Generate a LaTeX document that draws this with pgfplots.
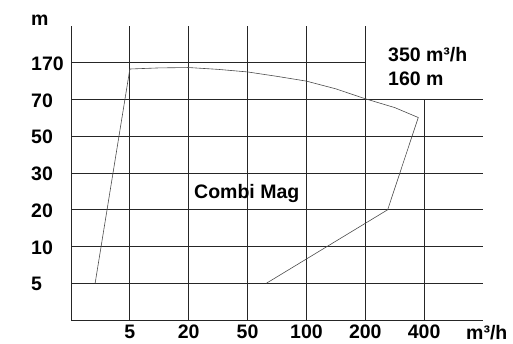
\documentclass[border=0pt]{standalone}
\usepackage{fontspec}
\setmainfont{Liberation Sans}
\usepackage{pgfplots}
\pgfplotsset{compat=1.18}
\begin{document}
\begin{tikzpicture}[x=1bp,y=1bp,font=\fontsize{19.5bp}{23bp}\selectfont\bfseries]
\path[use as bounding box] (0,0) rectangle (513,343);
\begin{axis}[
    at={(71bp,23bp)}, anchor=south west,
    width=412bp, height=294bp, scale only axis,
    xmin=0, xmax=7, ymin=0, ymax=8,
    axis x line=bottom, axis y line=left,
    axis line style={-, black!85, line width=0.8bp},
    xtick={1,...,6}, xticklabels={5,20,50,100,200,400},
    ytick={1,...,7}, yticklabels={5,10,20,30,50,70,170},
    major tick length=0pt,
    /pgf/number format/assume math mode=true,
    ticklabel style={font=\fontsize{19.5bp}{23bp}\selectfont\bfseries, inner sep=0pt},
    xticklabel style={anchor=north, yshift=-5bp},
    yticklabel style={anchor=west, xshift=-40bp, yshift=-1bp},
    clip=false,
]
% grid
\draw[black!85, line width=0.8bp] (axis cs:1,0) -- (axis cs:1,8);
\draw[black!85, line width=0.8bp] (axis cs:2,0) -- (axis cs:2,8);
\draw[black!85, line width=0.8bp] (axis cs:3,0) -- (axis cs:3,8);
\draw[black!85, line width=0.8bp] (axis cs:4,0) -- (axis cs:4,8);
\draw[black!85, line width=0.8bp] (axis cs:5,0) -- (axis cs:5,8);
\draw[black!85, line width=0.8bp] (axis cs:6,0) -- (axis cs:6,6);
\draw[black!85, line width=0.8bp] (axis cs:0,7) -- (axis cs:5,7);
\draw[black!85, line width=0.8bp] (axis cs:0,6) -- (axis cs:7,6);
\draw[black!85, line width=0.8bp] (axis cs:0,5) -- (axis cs:7,5);
\draw[black!85, line width=0.8bp] (axis cs:0,4) -- (axis cs:7,4);
\draw[black!85, line width=0.8bp] (axis cs:0,3) -- (axis cs:7,3);
\draw[black!85, line width=0.8bp] (axis cs:0,2) -- (axis cs:7,2);
\draw[black!85, line width=0.8bp] (axis cs:0,1) -- (axis cs:7,1);
% operating envelope
\addplot[black!70, line width=0.6bp] coordinates {
    (0.41,1) (1,6.83) (1.5,6.86) (2,6.87) (2.5,6.82) (3,6.75)
    (3.5,6.63) (4,6.50) (4.5,6.29) (5,6.02) (5.5,5.78) (5.9,5.51)
    (5.38,3) (3.32,1)
};
\end{axis}
\node[anchor=base west, inner sep=0pt] at (31,318) {m};
\node[anchor=base west, inner sep=0pt] at (388,282) {350 m³/h};
\node[anchor=base west, inner sep=0pt] at (388,258) {160 m};
\node[anchor=base west, inner sep=0pt] at (194,145) {Combi Mag};
\node[anchor=base west, inner sep=0pt] at (466,4) {m³/h};
\end{tikzpicture}
\end{document}
